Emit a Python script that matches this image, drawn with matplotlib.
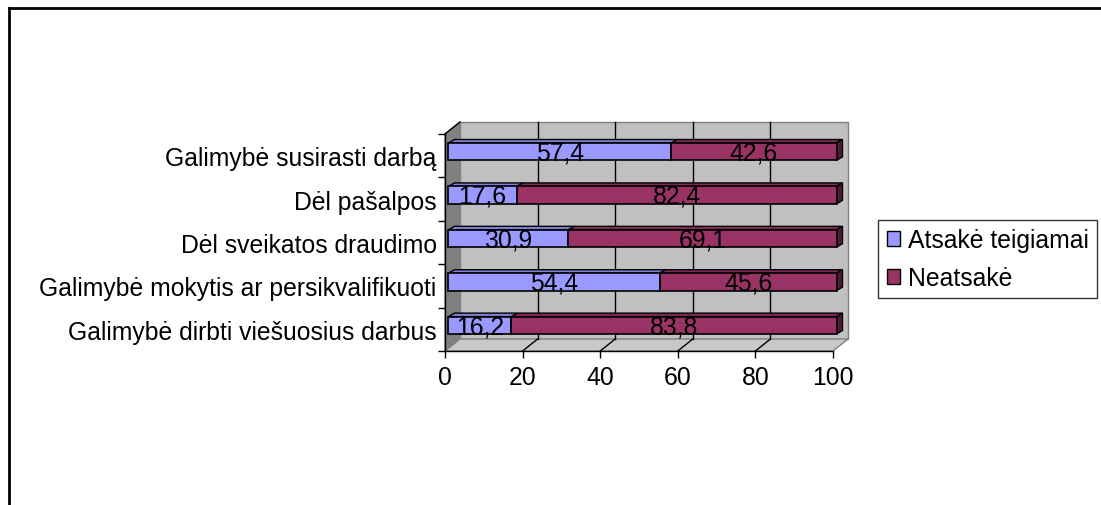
import matplotlib
matplotlib.use("Agg")
import matplotlib.pyplot as plt
from matplotlib.patches import Polygon, Rectangle, Patch
from matplotlib.lines import Line2D

# ---- data ----
categories = [
    "Galimybė dirbti viešuosius darbus",
    "Galimybė mokytis ar persikvalifikuoti",
    "Dėl sveikatos draudimo",
    "Dėl pašalpos",
    "Galimybė susirasti darbą",
]
positive = [16.2, 54.4, 30.9, 17.6, 57.4]
negative = [83.8, 45.6, 69.1, 82.4, 42.6]
series_names = ["Atsakė teigiamai", "Neatsakė"]
xticks = [0, 20, 40, 60, 80, 100]

# ---- style ----
plt.rcParams['font.family'] = ['Liberation Sans', 'DejaVu Sans']
FS = 17.8
BLUE, BLUE_TOP = "#9999FF", "#7F7FD4"
MAROON, MAROON_TOP, MAROON_SIDE = "#993366", "#7F2A55", "#4D1A33"
WALL, SIDE_WALL, FLOOR = "#C0C0C0", "#808080", "#C8C8C8"

W, H = 1101, 506
fig = plt.figure(figsize=(W / 100, H / 100), dpi=100)

# front plane of the 3D box in pixels
x0p, x1p, ytp, ybp = 445, 833, 135, 352
ax = fig.add_axes([x0p / W, 1 - ybp / H, (x1p - x0p) / W, (ybp - ytp) / H])
n = len(categories)
ax.set_xlim(0, 100)
ax.set_ylim(0, n)

pxx = 100 / (x1p - x0p)        # data units per pixel (x)
pxy = n / (ybp - ytp)          # data units per pixel (y)
DX, DY = 15 * pxx, 12 * pxy    # box depth
BX0, BY0 = 3.5 * pxx, 4 * pxy  # bar front offset
BDX, BDY = 6 * pxx, 3.5 * pxy  # bar depth
BH = 0.4

# walls
ax.add_patch(Rectangle((DX, DY), 100, n, facecolor=WALL, edgecolor=SIDE_WALL,
                       lw=1, clip_on=False, zorder=0))
ax.add_patch(Polygon([(0, 0), (DX, DY), (DX, n + DY), (0, n)], closed=True,
                     facecolor=SIDE_WALL, edgecolor=SIDE_WALL, lw=1, clip_on=False, zorder=0.5))
ax.add_patch(Polygon([(0, 0), (100, 0), (100 + DX, DY), (DX, DY)], closed=True,
                     facecolor=FLOOR, edgecolor=SIDE_WALL, lw=1, clip_on=False, zorder=0.5))
ax.plot([0, DX], [n, n + DY], color="black", lw=1, clip_on=False, zorder=0.6)
for t in xticks[1:-1]:
    ax.plot([t + DX, t + DX], [DY, n + DY], color="black", lw=1, clip_on=False, zorder=0.6)
    ax.plot([t, t + DX], [0, DY], color="black", lw=1, clip_on=False, zorder=0.6)

# bars
for i, (p, q) in enumerate(zip(positive, negative)):
    yc = i + 0.5 + BY0
    y0, y1 = yc - BH / 2, yc + BH / 2
    segs = [(0, p, BLUE, BLUE_TOP), (p, p + q, MAROON, MAROON_TOP)]
    for s, e, fc, tc in segs:
        ax.add_patch(Polygon([(BX0 + s, y1), (BX0 + e, y1), (BX0 + e + BDX, y1 + BDY),
                              (BX0 + s + BDX, y1 + BDY)], closed=True,
                             facecolor=tc, edgecolor="black", lw=1, clip_on=False, zorder=2))
        ax.add_patch(Rectangle((BX0 + s, y0), e - s, BH, facecolor=fc, edgecolor="black",
                               lw=1.2, clip_on=False, zorder=3))
        ax.text(BX0 + (s + e) / 2, yc - 0.02, f"{e - s:.1f}".replace(".", ","), ha="center",
                va="center", fontsize=FS, zorder=4)
    e = p + q
    ax.add_patch(Polygon([(BX0 + e, y0), (BX0 + e, y1), (BX0 + e + BDX, y1 + BDY),
                          (BX0 + e + BDX, y0 + BDY)], closed=True,
                         facecolor=MAROON_SIDE, edgecolor="black", lw=1, clip_on=False, zorder=2))

# axes
for side in ["top", "right"]:
    ax.spines[side].set_visible(False)
for side in ["left", "bottom"]:
    ax.spines[side].set_color("black")
    ax.spines[side].set_linewidth(1)
    ax.spines[side].set_zorder(5)
ax.set_xticks(xticks)
ax.set_xticklabels([str(t) for t in xticks], fontsize=FS)
ax.set_yticks(range(n + 1))
ax.set_yticklabels([])
ax.set_yticks([i + 0.5 for i in range(n)], minor=True)
ax.set_yticklabels(categories, minor=True, fontsize=FS)
ax.tick_params(axis="y", which="minor", length=0, pad=6)
ax.tick_params(axis="both", which="major", direction="out", length=5, width=1, color="black")
ax.tick_params(axis="x", pad=5)
ax.set_facecolor("none")

# legend
handles = [Patch(facecolor=BLUE, edgecolor="black", lw=1),
           Patch(facecolor=MAROON, edgecolor="black", lw=1)]
leg = fig.legend(handles, series_names, loc="center left",
                 bbox_to_anchor=(878 / W, 1 - 260 / H), fontsize=FS, frameon=True,
                 fancybox=False, handlelength=0.55, handleheight=0.55, handletextpad=0.3,
                 borderpad=0.35, labelspacing=0.55, borderaxespad=0)
leg.get_frame().set_edgecolor("black")
leg.get_frame().set_linewidth(1)

# outer border (top and left)
fig.add_artist(Line2D([8.5 / W, 1], [1 - 8.5 / H, 1 - 8.5 / H], color="black", lw=2,
                      transform=fig.transFigure))
fig.add_artist(Line2D([8.5 / W, 8.5 / W], [0, 1 - 8.5 / H], color="black", lw=2,
                      transform=fig.transFigure))

fig.savefig("out.png", dpi=100, facecolor="white")
